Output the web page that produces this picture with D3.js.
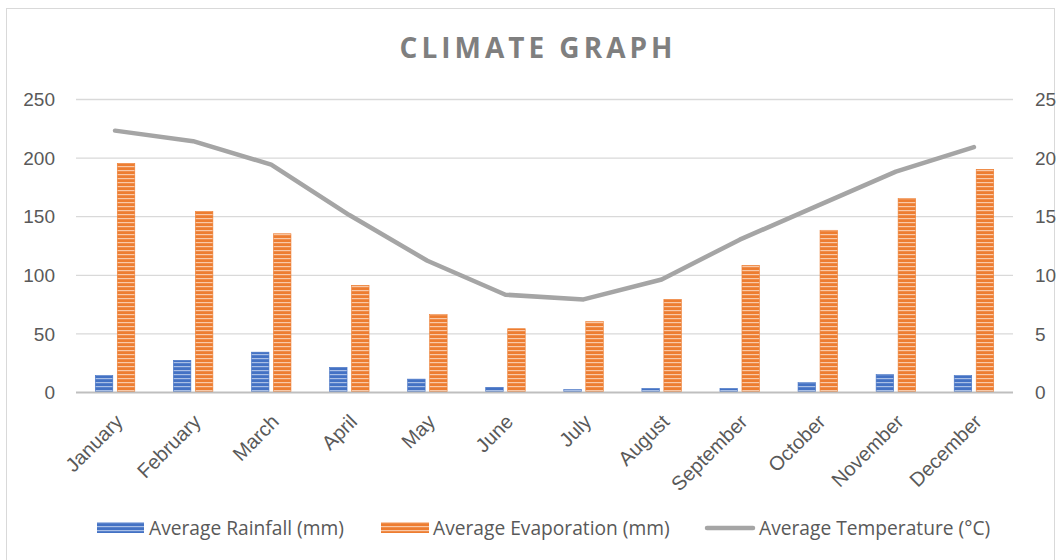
<!DOCTYPE html>
<html><head><meta charset="utf-8">
<script src="https://cdn.jsdelivr.net/npm/d3@7/dist/d3.min.js"></script>
<style>
html,body{margin:0;padding:0;background:#fff;}
svg{display:block;font-family:"Open Sans",Lato,sans-serif;}
</style></head>
<body>
<svg id="chart" width="1061" height="560"></svg>
<script>
const months = ["January","February","March","April","May","June","July","August","September","October","November","December"];
const rainfall = [14,27,34,21,11,4,2,3,3,8,15,14];
const evaporation = [195,154,135,91,66,54,60,79,108,138,165,190];
const temperature = [22.3,21.4,19.4,15.1,11.2,8.3,7.9,9.6,13.0,15.9,18.8,20.9];
const leftTicks = [0,50,100,150,200,250];
const rightTicks = [0,5,10,15,20,25];
const seriesNames = ["Average Rainfall (mm)","Average Evaporation (mm)","Average Temperature (°C)"];
const title = "CLIMATE GRAPH";

const svg = d3.select("#chart");
const m = {left:76, right:1013, top:99, bottom:392};

svg.append("rect").attr("x",6.5).attr("y",8.5).attr("width",1048).attr("height",560)
  .attr("fill","#fff").attr("stroke","#d9d9d9").attr("stroke-width",1);

const defs = svg.append("defs");
function stripe(id, base, light){
  const p = defs.append("pattern").attr("id",id).attr("patternUnits","userSpaceOnUse")
    .attr("width",8).attr("height",4);
  p.append("rect").attr("width",8).attr("height",4).attr("fill",base);
  p.append("rect").attr("y",2).attr("width",8).attr("height",1.2).attr("fill",light);
}
stripe("pRain","#4472c4","#a9bfe6");
stripe("pEvap","#ed7d31","#f9c9a8");

const x = d3.scaleBand().domain(months).range([m.left,m.right]).paddingInner(0).paddingOuter(0);
const yL = d3.scaleLinear().domain([0,250]).range([m.bottom,m.top]);
const yR = d3.scaleLinear().domain([0,25]).range([m.bottom,m.top]);

svg.append("g").selectAll("line").data(leftTicks.filter(d=>d>0)).join("line")
  .attr("x1",m.left).attr("x2",m.right).attr("y1",d=>yL(d)+0.5).attr("y2",d=>yL(d)+0.5)
  .attr("stroke","#d9d9d9").attr("stroke-width",1.3);

const axL = d3.axisLeft(yL).tickValues(leftTicks).tickSize(0).tickPadding(21);
const gL = svg.append("g").attr("transform",`translate(${m.left},0)`).call(axL);
gL.select(".domain").remove();
gL.selectAll("text").attr("font-size",19).attr("fill","#595959").attr("dy","0.35em");

const axR = d3.axisRight(yR).tickValues(rightTicks).tickSize(0).tickPadding(22);
const gR = svg.append("g").attr("transform",`translate(${m.right},0)`).call(axR);
gR.select(".domain").remove();
gR.selectAll("text").attr("font-size",19).attr("fill","#595959").attr("dy","0.35em");

const bw = 17.5, gap = 4.5;
const grp = svg.append("g");
grp.selectAll("rect.rain").data(months).join("rect").attr("class","rain")
  .attr("x",(d)=>x(d)+x.bandwidth()/2 - gap/2 - bw)
  .attr("width",bw)
  .attr("y",(d,i)=>yL(rainfall[i]))
  .attr("height",(d,i)=>yL(0)-yL(rainfall[i]))
  .attr("fill","url(#pRain)").attr("stroke","#4472c4").attr("stroke-width",0.6);
grp.selectAll("rect.evap").data(months).join("rect").attr("class","evap")
  .attr("x",(d)=>x(d)+x.bandwidth()/2 + gap/2)
  .attr("width",bw)
  .attr("y",(d,i)=>yL(evaporation[i]))
  .attr("height",(d,i)=>yL(0)-yL(evaporation[i]))
  .attr("fill","url(#pEvap)").attr("stroke","#ed7d31").attr("stroke-width",0.6);

svg.append("line").attr("x1",m.left).attr("x2",m.right).attr("y1",m.bottom+0.5).attr("y2",m.bottom+0.5)
  .attr("stroke","#bfbfbf").attr("stroke-width",2);

const axX = d3.axisBottom(x).tickSize(0).tickPadding(0);
const gX = svg.append("g").attr("transform",`translate(0,${m.bottom})`).call(axX);
gX.select(".domain").remove();
gX.selectAll("text").attr("font-size",20).attr("fill","#595959")
  .attr("text-anchor","end").attr("dy",0).attr("y",0)
  .attr("transform","translate(9,31) rotate(-45)");

const line = d3.line().x((d,i)=>x(months[i])+x.bandwidth()/2).y(d=>yR(d));
svg.append("path").datum(temperature).attr("d",line).attr("fill","none")
  .attr("stroke","#a5a5a5").attr("stroke-width",4.5).attr("stroke-linejoin","round").attr("stroke-linecap","round");

svg.append("text").attr("x",538).attr("y",58).attr("text-anchor","middle")
  .attr("font-size",28).attr("font-weight","bold").attr("fill","#7f7f7f")
  .attr("letter-spacing","4px").text(title);

const lg = svg.append("g");
const lx = [97,381,705];
lg.append("rect").attr("x",lx[0]).attr("y",522).attr("width",47).attr("height",11).attr("fill","url(#pRain)");
lg.append("rect").attr("x",lx[1]).attr("y",522).attr("width",48).attr("height",11).attr("fill","url(#pEvap)");
lg.append("line").attr("x1",lx[2]+2).attr("x2",lx[2]+48).attr("y1",528).attr("y2",528)
  .attr("stroke","#a5a5a5").attr("stroke-width",4.5).attr("stroke-linecap","round");
const lt = [149,433,759];
seriesNames.forEach((s,i)=>{
  lg.append("text").attr("x",lt[i]).attr("y",535).attr("font-size",19.2).attr("fill","#595959").text(s);
});
</script>
</body></html>
